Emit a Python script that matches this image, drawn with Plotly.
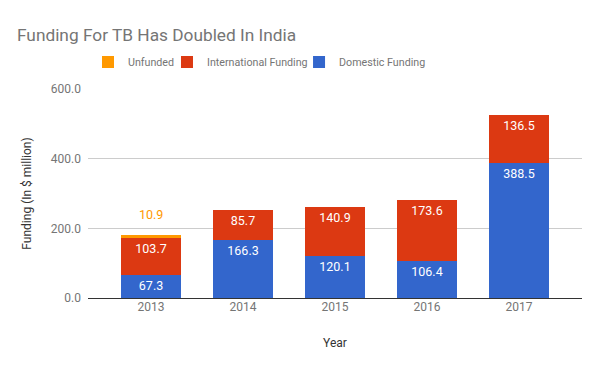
import plotly.graph_objects as go

years = ["2013", "2014", "2015", "2016", "2017"]
domestic = [67.3, 166.3, 120.1, 106.4, 388.5]
international = [103.7, 85.7, 140.9, 173.6, 136.5]
unfunded = [10.9, None, None, None, None]

C_DOM = "#3366CC"
C_INT = "#DC3912"
C_UNF = "#FF9900"
FONT = "Roboto"

fig = go.Figure()
fig.add_trace(go.Bar(
    x=years, y=domestic, name="Domestic Funding", legend="legend3",
    marker=dict(color=C_DOM, line=dict(width=0)),
    text=[f"{v:.1f}" for v in domestic], textposition="inside", insidetextanchor="end",
    textfont=dict(color="white", size=12.5, family=FONT),
))
fig.add_trace(go.Bar(
    x=years, y=international, name="International Funding", legend="legend2",
    marker=dict(color=C_INT, line=dict(width=0)),
    text=[f"{v:.1f}" for v in international], textposition="inside", insidetextanchor="end",
    textfont=dict(color="white", size=12.5, family=FONT),
))
fig.add_trace(go.Bar(
    x=years, y=unfunded, name="Unfunded", legend="legend4", showlegend=True,
    marker=dict(color=C_UNF, line=dict(width=0)),
    textposition="none",
))

for i, v in enumerate(unfunded):
    if v is not None:
        total = domestic[i] + international[i] + v
        fig.add_annotation(x=i, y=total, xref="x", yref="y", text=f"{v:.1f}", showarrow=False,
                           yshift=20, font=dict(color=C_UNF, size=12.5, family=FONT))

leg_common = dict(orientation="h", xanchor="left", y=1.129, yanchor="middle",
                  font=dict(size=10.7, color="#757575", family=FONT),
                  itemwidth=30, bgcolor="rgba(0,0,0,0)")

fig.update_layout(
    barmode="stack",
    bargap=0.348,
    width=592, height=363,
    margin=dict(l=80, r=18, t=81, b=73, autoexpand=False),
    paper_bgcolor="white", plot_bgcolor="white",
    font=dict(family=FONT, color="#757575", size=12),
    title=dict(text="Funding For TB Has Doubled In India", x=0.0152, xanchor="left",
               xref="container", yref="container",
               y=0.9256, yanchor="middle", pad=dict(l=0, t=0, b=0, r=0),
               font=dict(size=17.3, color="#757575", family=FONT)),
    legend2=dict(x=0.1599, **leg_common),
    legend3=dict(x=0.4272, **leg_common),
    legend4=dict(x=0.0, **leg_common),
)
fig.update_xaxes(type="category", range=[-0.685, 4.685], showgrid=False, ticks="", showline=False,
                 automargin=False,
                 tickfont=dict(size=12, color="#757575"),
                 title=dict(text="Year", font=dict(size=12, color="#333333"), standoff=25))
fig.update_yaxes(range=[0, 600], tickvals=[0, 200, 400, 600],
                 ticktext=["0.0", "200.0", "400.0", "600.0"],
                 showgrid=True, gridcolor="#cccccc", gridwidth=1,
                 zeroline=True, zerolinecolor="#333333", zerolinewidth=1,
                 showline=False, ticks="", ticklabelstandoff=6, automargin=False,
                 tickfont=dict(size=12, color="#757575"),
                 title=dict(text="Funding (In $ million)", font=dict(size=12, color="#333333"), standoff=16))

fig.write_html("out.html")
